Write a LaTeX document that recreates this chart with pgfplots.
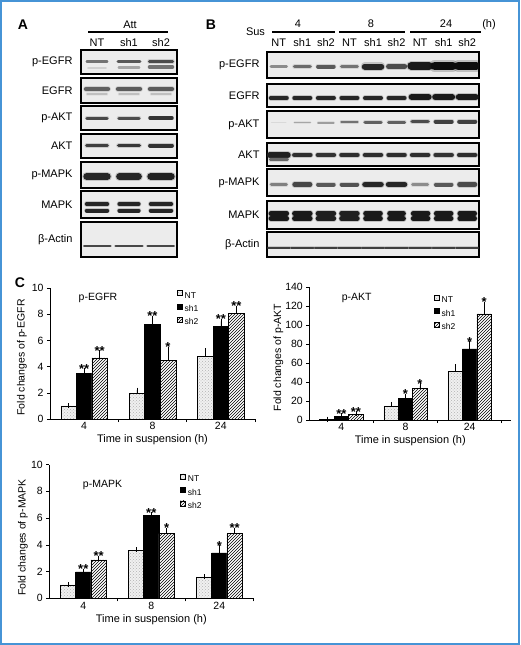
\documentclass[border=0pt]{standalone}
\usepackage{fontspec}
\setmainfont{Liberation Sans}
\usepackage{pgfplots}
\usepackage{pgfplotstable}
\pgfplotsset{compat=1.18}
\usetikzlibrary{patterns}
\definecolor{frameblue}{RGB}{70,148,214}
\definecolor{blotbg}{RGB}{236,236,236}
\newcommand{\fs}[1]{\fontsize{#1}{#1}\selectfont}
\newcommand{\band}[5]{%
 \addplot[line width=1.35*#4pt, line cap=round, draw=black!#5, opacity=0.2] coordinates {(#1,#3) (#2,#3)};
 \addplot[line width=#4pt, line cap=round, draw=black!#5] coordinates {(#1,#3) (#2,#3)};}

\pgfplotstableread{
x ynt ent ysh1 esh1 ssh1 ysh2 esh2 ssh2
0 1.00 0.00 3.46 0.25 ** 4.67 0.38 **
1 1.95 0.25 7.22 0.47 ** 4.50 0.84 *
2 4.80 0.40 7.05 0.41 ** 8.08 0.37 **
}\tabEGFR
\pgfplotstableread{
x ynt ent ysh1 esh1 ssh1 ysh2 esh2 ssh2
0 1.0 0.0 4.0 0.8 ** 6.0 0.6 **
1 15.0 1.5 22.5 2.6 * 33.5 2.5 *
2 51.5 4.6 75.0 5.6 * 112.0 10.0 *
}\tabAKT
\pgfplotstableread{
x ynt ent ysh1 esh1 ssh1 ysh2 esh2 ssh2
0 1.00 0.03 1.98 0.06 ** 2.87 0.13 **
1 3.58 0.05 6.18 0.08 ** 4.83 0.25 *
2 1.60 0.03 3.40 0.40 * 4.85 0.25 **
}\tabMAPK

\pgfplotsset{
 blot/.style={scale only axis, anchor=north west, ticks=none, y dir=reverse, ymin=0,
   axis background/.style={fill=blotbg}, axis line style={line width=1.3pt, black}, clip=true},
 blotA/.style={blot, width=96pt, xmin=0.5, xmax=3.5},
 blotB/.style={blot, width=212pt, xmin=0.5, xmax=9.5},
 ntbar/.style={ybar, bar shift=0pt, fill=gray!12, postaction={pattern=crosshatch dots, pattern color=gray!60}, draw=black, line width=0.5pt},
 shonebar/.style={ybar, bar shift=0pt, fill=black, draw=black, line width=0.5pt},
 shtwobar/.style={ybar, bar shift=0pt, fill=white, postaction={pattern=north east lines}, draw=black, line width=0.5pt},
 errs/.style={error bars/.cd, y dir=plus, y explicit, error mark options={mark size=2.5pt, line width=0.6pt, black}, error bar style={line width=0.6pt, black}},
 stars/.style={ybar, bar shift=0pt, bar width=0.01, draw=none, fill=none, forget plot,
   nodes near coords, point meta=explicit symbolic,
   nodes near coords style={anchor=south, yshift=-2.8pt, inner sep=0pt, font=\bfseries\fs{13}, text=black}},
 fchart/.style={scale only axis, anchor=south west, xmin=-0.5, ymin=0,
   axis x line*=bottom, axis y line*=left, axis line style={line width=0.6pt},
   xtick={0.5,1.5,2.5}, xticklabels={}, extra x ticks={0,1,2}, extra x tick labels={4,8,24},
   extra x tick style={major tick length=0pt},
   tick align=outside, major tick length=3pt, tick style={line width=0.6pt, black},
   tick label style={font=\fs{10.5}}, /pgf/number format/assume math mode=true,
   xlabel={Time in suspension (h)},
   every axis x label/.style={at={(axis description cs:0.5,0)}, anchor=center, yshift=-21pt, font=\fs{11}},
   every axis y label/.style={rotate=90, anchor=center, font=\fs{10.5}},
   legend style={draw=none, fill=none, anchor=north west, font=\fs{8.5}, inner sep=0pt, row sep=5.5pt, column sep=2pt, nodes={inner sep=0pt, text height=6pt, text depth=0pt}},
   legend cell align=left,
   legend image code/.code={\draw[##1, line width=0.4pt] (0pt,-0.3pt) rectangle (5pt,4.7pt);},
   clip=false},
}

\begin{document}
\begin{tikzpicture}
\useasboundingbox (0,0) rectangle (520pt,-645pt);
\fill[white] (0,0) rectangle (520pt,-645pt);

% ---------------- Panel A ----------------
\node[font=\bfseries\fs{14}] at (23pt,-25pt) {A};
\node[font=\fs{11}] at (130pt,-25pt) {Att};
\draw[line width=1.2pt] (88pt,-32pt) -- (168pt,-32pt);
\foreach \x/\t in {97/NT,129/sh1,161/sh2} \node[font=\fs{11}] at (\x pt,-43pt) {\t};
\foreach \y/\t in {62/p-EGFR,90.5/EGFR,118/p-AKT,146/AKT,175/p-MAPK,204.5/MAPK,239.5/β-Actin}
  \node[font=\fs{11}, anchor=east] at (76pt,-\y pt) {\t};

\begin{axis}[blotA, at={(81pt,-50pt)}, height=24pt, ymax=24]
\band{0.68}{1.32}{11.5}{2.2}{55}
\band{0.72}{1.28}{18}{1.5}{18}
\band{1.66}{2.34}{11.5}{2.8}{65}
\band{1.68}{2.32}{17.5}{2.2}{35}
\band{2.64}{3.36}{11.5}{3.3}{70}
\band{2.64}{3.36}{17}{3.2}{55}
\end{axis}
\begin{axis}[blotA, at={(81pt,-78pt)}, height=25pt, ymax=25]
\band{0.66}{1.34}{11}{4.5}{62}
\band{1.66}{2.34}{11}{4.5}{64}
\band{2.66}{3.34}{11}{4.5}{64}
\band{0.7}{1.3}{16}{2.5}{25}
\band{1.7}{2.3}{16}{2.5}{25}
\band{2.7}{3.3}{16}{2.5}{25}
\end{axis}
\begin{axis}[blotA, at={(81pt,-106pt)}, height=24pt, ymax=24]
\band{0.68}{1.32}{12}{3}{72}
\band{1.68}{2.32}{12}{3}{70}
\band{2.66}{3.34}{12}{3.5}{80}
\end{axis}
\begin{axis}[blotA, at={(81pt,-134pt)}, height=24pt, ymax=24]
\band{0.68}{1.32}{11.5}{3.5}{75}
\band{1.68}{2.32}{11.5}{3.8}{78}
\band{2.66}{3.34}{11.5}{4}{80}
\end{axis}
\begin{axis}[blotA, at={(81pt,-162pt)}, height=26pt, ymax=26]
\band{0.68}{1.32}{14.5}{7}{85}
\band{1.7}{2.3}{14.5}{6.5}{85}
\band{2.68}{3.32}{14.5}{7}{87}
\end{axis}
\begin{axis}[blotA, at={(81pt,-191pt)}, height=27pt, ymax=27]
\band{0.68}{1.32}{13}{4}{85}
\band{0.68}{1.32}{19.5}{4}{85}
\band{1.7}{2.3}{13}{4}{85}
\band{1.7}{2.3}{19.5}{4}{85}
\band{2.68}{3.32}{13}{4}{85}
\band{2.68}{3.32}{19.5}{4}{85}
\end{axis}
\begin{axis}[blotA, at={(81pt,-222pt)}, height=35pt, ymax=35]
\band{0.6}{1.42}{24}{2.2}{72}
\band{1.58}{2.42}{24}{2.2}{72}
\band{2.58}{3.4}{24}{2.2}{72}
\end{axis}

% ---------------- Panel B ----------------
\node[font=\bfseries\fs{14}] at (211pt,-25pt) {B};
\node[font=\fs{11}] at (255.5pt,-32pt) {Sus};
\draw[line width=1.5pt] (272pt,-32pt) -- (335pt,-32pt);
\draw[line width=1.5pt] (339pt,-32pt) -- (405pt,-32pt);
\draw[line width=1.5pt] (410pt,-32pt) -- (481pt,-32pt);
\foreach \x/\t in {298/4,371/8,446/24} \node[font=\fs{11}] at (\x pt,-24pt) {\t};
\node[font=\fs{11}] at (489pt,-25pt) {(h)};
\foreach \x/\t in {278.8/NT,302.3/sh1,325.9/sh2,349.4/NT,373/sh1,396.6/sh2,420.1/NT,443.7/sh1,467.2/sh2}
  \node[font=\fs{11}] at (\x pt,-43pt) {\t};
\foreach \y/\t in {65/p-EGFR,95.5/EGFR,124.5/p-AKT,154.5/AKT,182.5/p-MAPK,215/MAPK,244.5/β-Actin}
  \node[font=\fs{11}, anchor=east] at (263pt,-\y pt) {\t};

\begin{axis}[blotB, at={(267pt,-52pt)}, height=26pt, ymax=26]
\band{0.67}{1.33}{14.5}{2.8}{45}
\band{1.67}{2.33}{14.5}{3.5}{58}
\band{2.67}{3.33}{14.5}{4}{65}
\band{3.67}{4.33}{14.5}{3.5}{55}
\band{4.65}{5.35}{14.5}{6}{85}
\band{5.66}{6.34}{14.5}{5}{70}
\band{6.62}{7.38}{14}{7.5}{90}
\band{7.62}{8.38}{14}{8.5}{95}
\band{8.62}{9.38}{14}{8.5}{95}
\end{axis}
\begin{axis}[blotB, at={(267pt,-84pt)}, height=23pt, ymax=23]
\band{0.66}{1.34}{14}{4}{85}
\band{1.66}{2.34}{14}{4}{85}
\band{2.66}{3.34}{14}{4}{85}
\band{3.66}{4.34}{14}{4}{85}
\band{4.66}{5.34}{14}{4}{85}
\band{5.66}{6.34}{14}{4}{85}
\band{6.64}{7.36}{13}{6}{90}
\band{7.64}{8.36}{13}{6}{90}
\band{8.64}{9.36}{13}{6}{90}
\end{axis}
\begin{axis}[blotB, at={(267pt,-111pt)}, height=27pt, ymax=27]
\band{0.7}{1.3}{11.5}{1.2}{15}
\band{1.67}{2.33}{11.5}{1.8}{35}
\band{2.67}{3.33}{11.5}{2}{38}
\band{3.66}{4.34}{11}{2.5}{55}
\band{4.66}{5.34}{11}{3}{62}
\band{5.66}{6.34}{11}{3}{62}
\band{6.66}{7.34}{10.5}{3.5}{70}
\band{7.66}{8.34}{10.5}{4}{75}
\band{8.66}{9.34}{10.5}{4}{75}
\end{axis}
\begin{axis}[blotB, at={(267pt,-143pt)}, height=23pt, ymax=23]
\band{0.62}{1.38}{12}{6}{88}
\band{0.64}{1.36}{16.5}{3}{60}
\band{1.66}{2.34}{12}{4.5}{82}
\band{2.66}{3.34}{12}{4.5}{80}
\band{3.66}{4.34}{12}{4.5}{82}
\band{4.66}{5.34}{12}{4.5}{82}
\band{5.66}{6.34}{12}{4.5}{82}
\band{6.66}{7.34}{12}{4.5}{82}
\band{7.66}{8.34}{12}{4.5}{80}
\band{8.66}{9.34}{12}{4.5}{82}
\end{axis}
\begin{axis}[blotB, at={(267pt,-169pt)}, height=27pt, ymax=27]
\band{0.68}{1.32}{15.5}{3}{50}
\band{1.67}{2.33}{15.5}{4.5}{72}
\band{2.67}{3.33}{15.5}{4}{65}
\band{3.67}{4.33}{15.5}{4}{68}
\band{4.66}{5.34}{15.5}{5.5}{85}
\band{5.66}{6.34}{15.5}{5.5}{85}
\band{6.68}{7.32}{15.5}{3}{45}
\band{7.67}{8.33}{15.5}{4}{65}
\band{8.67}{9.33}{15.5}{4.5}{70}
\end{axis}
\begin{axis}[blotB, at={(267pt,-201pt)}, height=28pt, ymax=28]
\band{0.66}{1.34}{12.5}{4.5}{90}
\band{0.66}{1.34}{17.5}{4.5}{90}
\band{1.66}{2.34}{12.5}{4.5}{90}
\band{1.66}{2.34}{17.5}{4.5}{90}
\band{2.66}{3.34}{12.5}{4.5}{88}
\band{2.66}{3.34}{17.5}{4.5}{88}
\band{3.66}{4.34}{12.5}{4.5}{88}
\band{3.66}{4.34}{17.5}{4.5}{88}
\band{4.68}{5.32}{12.5}{4.5}{90}
\band{4.68}{5.32}{17.5}{4.5}{90}
\band{5.7}{6.3}{12.5}{4.5}{90}
\band{5.7}{6.3}{17.5}{4.5}{90}
\band{6.7}{7.34}{12.5}{4.5}{90}
\band{6.7}{7.34}{17.5}{4.5}{90}
\band{7.68}{8.32}{12.5}{4.5}{90}
\band{7.68}{8.32}{17.5}{4.5}{90}
\band{8.68}{9.32}{12.5}{4.5}{90}
\band{8.68}{9.32}{17.5}{4.5}{90}
\end{axis}
\begin{axis}[blotB, at={(267pt,-232pt)}, height=25pt, ymax=25]
\band{0.55}{1.47}{15.5}{2}{75}
\band{1.53}{2.47}{15.5}{2}{75}
\band{2.53}{3.47}{15.5}{2}{75}
\band{3.53}{4.47}{15.5}{2}{75}
\band{4.53}{5.47}{15.5}{2}{75}
\band{5.53}{6.47}{15.5}{2}{75}
\band{6.53}{7.47}{15.5}{2}{75}
\band{7.53}{8.47}{15.5}{2}{75}
\band{8.53}{9.45}{15.5}{2}{75}
\end{axis}

% ---------------- Panel C ----------------
\node[font=\bfseries\fs{14}] at (20pt,-283pt) {C};

\begin{axis}[fchart, at={(50pt,-419pt)}, width=205pt, height=131pt, xmax=2.5, ymax=10, ytick={0,2,...,10},
  ylabel={Fold changes of p-EGFR}, every axis y label/.append style={at={(axis description cs:-0.137,0.47)}},
  legend style={at={(0.62,0.985)}}]
\addplot[ntbar, bar width=0.227, errs] table[x expr=\thisrow{x}-0.227, y=ynt, y error=ent]{\tabEGFR};
\addplot[shonebar, bar width=0.227, errs] table[x=x, y=ysh1, y error=esh1]{\tabEGFR};
\addplot[shtwobar, bar width=0.227, errs] table[x expr=\thisrow{x}+0.227, y=ysh2, y error=esh2]{\tabEGFR};
\legend{NT,sh1,sh2}
\addplot[stars] table[x=x, y expr=\thisrow{ysh1}+\thisrow{esh1}, meta=ssh1]{\tabEGFR};
\addplot[stars] table[x expr=\thisrow{x}+0.227, y expr=\thisrow{ysh2}+\thisrow{esh2}, meta=ssh2]{\tabEGFR};
\end{axis}
\node[font=\fs{10.5}] at (98pt,-297.7pt) {p-EGFR};

\begin{axis}[fchart, at={(309.3pt,-420pt)}, width=202pt, height=132.7pt, xmax=2.65, ymax=140, ytick={0,20,...,140},
  ylabel={Fold changes of p-AKT}, every axis y label/.append style={at={(axis description cs:-0.153,0.47)}},
  legend style={at={(0.618,0.943)}}]
\addplot[ntbar, bar width=0.226, errs] table[x expr=\thisrow{x}-0.226, y=ynt, y error=ent]{\tabAKT};
\addplot[shonebar, bar width=0.226, errs] table[x=x, y=ysh1, y error=esh1]{\tabAKT};
\addplot[shtwobar, bar width=0.226, errs] table[x expr=\thisrow{x}+0.226, y=ysh2, y error=esh2]{\tabAKT};
\legend{NT,sh1,sh2}
\addplot[stars] table[x=x, y expr=\thisrow{ysh1}+\thisrow{esh1}, meta=ssh1]{\tabAKT};
\addplot[stars] table[x expr=\thisrow{x}+0.226, y expr=\thisrow{ysh2}+\thisrow{esh2}, meta=ssh2]{\tabAKT};
\end{axis}
\node[font=\fs{10.5}] at (356.7pt,-298pt) {p-AKT};

\begin{axis}[fchart, at={(49.3pt,-598.3pt)}, width=204pt, height=133.7pt, xmax=2.5, ymax=10, ytick={0,2,...,10},
  ylabel={Fold changes of p-MAPK}, every axis y label/.append style={at={(axis description cs:-0.129,0.455)}},
  legend style={at={(0.642,0.933)}}]
\addplot[ntbar, bar width=0.225, errs] table[x expr=\thisrow{x}-0.225, y=ynt, y error=ent]{\tabMAPK};
\addplot[shonebar, bar width=0.225, errs] table[x=x, y=ysh1, y error=esh1]{\tabMAPK};
\addplot[shtwobar, bar width=0.225, errs] table[x expr=\thisrow{x}+0.225, y=ysh2, y error=esh2]{\tabMAPK};
\legend{NT,sh1,sh2}
\addplot[stars] table[x=x, y expr=\thisrow{ysh1}+\thisrow{esh1}, meta=ssh1]{\tabMAPK};
\addplot[stars] table[x expr=\thisrow{x}+0.225, y expr=\thisrow{ysh2}+\thisrow{esh2}, meta=ssh2]{\tabMAPK};
\end{axis}
\node[font=\fs{10.5}] at (102.5pt,-485pt) {p-MAPK};

\draw[frameblue, line width=2pt] (1pt,-1pt) rectangle (519pt,-644pt);
\end{tikzpicture}
\end{document}
